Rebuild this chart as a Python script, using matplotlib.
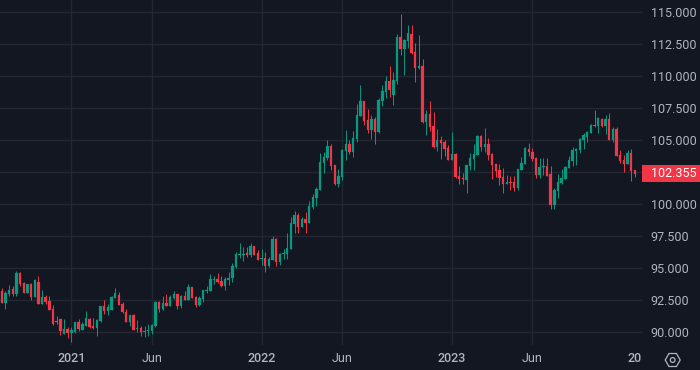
import numpy as np
import matplotlib
matplotlib.use("Agg")
import matplotlib.pyplot as plt
from matplotlib.patches import Circle, Rectangle, RegularPolygon

opens = [
    93.22, 92.28, 92.99, 93.37, 92.99, 94.62, 93.84, 93.06, 93.76, 92.75,
    93.92, 92.21, 92.75, 92.44, 91.82, 90.88, 91.04, 89.87, 90.26, 89.95,
    90.03, 90.80, 90.18, 90.49, 91.04, 90.49, 90.34, 90.88, 92.05, 91.66,
    91.74, 92.67, 92.91, 92.21, 91.58, 90.80, 91.35, 90.26, 90.34, 90.03,
    90.10, 90.10, 90.49, 92.36, 91.82, 92.28, 92.05, 92.67, 92.99, 92.05,
    92.83, 92.52, 93.53, 92.75, 92.13, 92.60, 93.22, 93.22, 94.08, 94.15,
    94.00, 93.61, 94.08, 94.23, 95.09, 96.04, 96.07, 96.20, 96.04, 96.74,
    96.20, 95.70, 95.81, 95.18, 95.65, 97.29, 95.49, 96.12, 96.12, 96.51,
    98.46, 99.17, 98.23, 98.85, 98.54, 99.79, 100.49, 101.12, 103.23, 103.62,
    104.56, 103.07, 101.59, 102.14, 104.17, 104.71, 104.09, 105.10, 106.90, 108.07,
    106.59, 105.81, 106.67, 105.65, 108.07, 108.78, 109.64, 108.54, 109.64, 113.07,
    112.13, 112.76, 113.31, 111.90, 110.65, 110.81, 106.43, 107.06, 106.12, 104.48,
    105.03, 104.87, 104.40, 103.46, 103.93, 102.21, 102.06, 101.90, 102.99, 103.54,
    103.85, 105.34, 104.48, 104.71, 103.93, 103.15, 102.68, 102.14, 101.59, 101.74,
    101.74, 101.28, 102.68, 103.15, 104.32, 104.09, 103.62, 102.29, 102.92, 102.99,
    102.37, 99.95, 101.04, 101.67, 101.98, 102.84, 103.39, 104.17, 104.24, 105.03,
    105.26, 105.57, 106.20, 106.12, 106.67, 106.12, 106.67, 105.03, 105.88, 103.85,
    103.46, 103.15, 104.01, 102.68,
]
highs = [
    93.43, 93.25, 93.69, 93.61, 94.78, 94.70, 93.92, 93.76, 93.84, 94.15,
    94.39, 93.30, 92.91, 92.83, 92.13, 91.27, 91.04, 91.04, 90.42, 90.42,
    90.80, 91.04, 90.80, 91.66, 91.12, 91.12, 91.04, 92.05, 92.52, 92.21,
    92.83, 93.45, 93.14, 92.36, 91.82, 91.35, 91.43, 90.96, 90.49, 90.49,
    90.65, 90.65, 92.44, 92.44, 92.83, 92.99, 92.91, 93.22, 92.99, 92.91,
    93.22, 93.76, 93.53, 92.83, 92.83, 93.30, 93.61, 94.54, 94.39, 94.62,
    94.39, 94.31, 94.70, 95.40, 96.26, 96.98, 96.67, 96.67, 96.98, 96.74,
    96.43, 96.51, 96.28, 95.89, 97.53, 97.37, 96.20, 96.51, 97.76, 99.01,
    99.48, 99.32, 99.01, 99.40, 100.26, 100.81, 101.35, 104.01, 104.09, 105.03,
    104.71, 103.07, 102.76, 104.32, 105.81, 105.03, 105.73, 107.84, 109.32, 108.07,
    107.45, 106.98, 106.82, 108.31, 109.32, 110.03, 110.81, 110.34, 113.31, 114.87,
    112.92, 114.01, 114.01, 112.60, 113.23, 111.35, 107.37, 108.07, 107.21, 105.89,
    105.34, 105.03, 104.64, 105.65, 104.01, 102.99, 102.45, 103.07, 104.01, 104.71,
    105.42, 105.42, 105.96, 105.18, 104.01, 103.15, 103.15, 102.84, 102.29, 102.21,
    102.21, 102.76, 103.70, 104.48, 104.79, 104.40, 103.70, 103.62, 103.62, 103.62,
    102.99, 101.28, 102.37, 102.76, 102.99, 103.78, 104.48, 104.40, 105.18, 105.57,
    105.73, 106.28, 107.37, 106.82, 106.74, 106.98, 107.13, 106.04, 106.04, 104.24,
    103.85, 104.24, 104.32, 102.68,
]
lows = [
    92.28, 91.82, 92.83, 92.83, 92.83, 93.61, 93.06, 93.06, 92.52, 92.75,
    92.21, 92.21, 92.21, 91.74, 90.57, 90.65, 89.79, 89.87, 89.56, 89.25,
    89.95, 90.10, 90.18, 90.49, 90.34, 90.26, 89.71, 90.80, 91.43, 91.35,
    91.74, 92.67, 92.13, 91.51, 90.80, 90.49, 90.18, 90.03, 89.71, 89.64,
    89.71, 89.87, 90.42, 91.58, 91.74, 92.05, 92.05, 92.60, 91.82, 91.90,
    92.52, 92.52, 92.67, 91.97, 92.05, 92.36, 93.06, 93.22, 93.76, 93.84,
    93.53, 93.30, 93.69, 93.92, 95.01, 95.81, 95.57, 95.89, 95.89, 96.04,
    95.65, 95.26, 94.71, 95.10, 95.65, 95.18, 95.26, 95.73, 95.73, 96.51,
    97.76, 97.76, 98.23, 97.76, 98.54, 99.64, 99.87, 101.12, 102.45, 103.46,
    102.68, 101.51, 101.35, 101.90, 103.46, 103.93, 103.70, 104.87, 106.90, 106.20,
    105.57, 105.10, 104.71, 105.57, 107.68, 108.31, 108.38, 107.76, 109.40, 111.67,
    110.10, 112.21, 111.74, 109.56, 110.57, 106.35, 105.42, 105.73, 104.40, 104.17,
    103.54, 103.78, 103.46, 103.46, 102.06, 101.59, 101.59, 100.89, 102.68, 102.68,
    103.85, 104.17, 104.09, 103.46, 101.98, 102.14, 101.51, 100.89, 101.59, 101.12,
    101.04, 101.12, 102.68, 103.15, 103.78, 103.39, 102.06, 102.06, 102.29, 102.21,
    99.64, 99.64, 100.49, 101.59, 101.98, 102.84, 102.99, 103.07, 104.01, 104.32,
    104.87, 105.57, 106.04, 105.57, 106.04, 105.49, 105.03, 104.87, 103.78, 103.23,
    102.53, 103.15, 101.82, 102.13,
]
closes = [
    92.28, 93.06, 93.30, 92.99, 94.62, 93.76, 93.06, 93.76, 92.75, 94.08,
    92.21, 92.75, 92.36, 91.74, 90.65, 90.80, 90.10, 90.26, 89.95, 90.18,
    90.80, 90.26, 90.65, 91.12, 90.42, 90.34, 90.96, 92.05, 91.66, 91.97,
    92.75, 93.06, 92.13, 91.58, 90.80, 91.35, 90.18, 90.34, 90.03, 90.10,
    90.18, 90.57, 92.36, 91.82, 92.28, 92.05, 92.75, 92.99, 92.05, 92.83,
    92.52, 93.53, 92.67, 92.13, 92.67, 93.30, 93.30, 94.15, 94.15, 93.92,
    93.61, 94.15, 94.23, 95.17, 96.10, 96.12, 96.15, 96.04, 96.74, 96.04,
    95.68, 95.78, 95.18, 95.73, 97.29, 95.49, 96.12, 96.20, 96.59, 98.54,
    99.17, 98.23, 98.85, 98.54, 99.87, 100.57, 101.20, 103.31, 103.70, 104.56,
    102.99, 101.59, 102.21, 104.24, 104.71, 104.09, 105.18, 106.98, 108.07, 106.51,
    105.81, 106.67, 105.65, 108.15, 108.85, 109.64, 108.93, 109.71, 113.07, 112.13,
    112.84, 113.38, 111.82, 110.65, 110.81, 106.43, 107.06, 106.04, 104.48, 105.03,
    104.79, 104.32, 103.46, 103.93, 102.14, 101.98, 101.98, 103.07, 103.62, 103.93,
    105.34, 104.48, 104.71, 103.85, 103.07, 102.60, 102.06, 101.59, 101.74, 101.67,
    101.28, 102.76, 103.23, 104.40, 104.09, 103.54, 102.29, 102.92, 102.99, 102.21,
    99.95, 101.12, 101.74, 102.06, 102.92, 103.46, 104.24, 104.32, 105.10, 105.42,
    105.65, 106.20, 106.12, 106.74, 106.12, 106.67, 105.03, 105.88, 103.78, 103.39,
    103.15, 104.01, 102.60, 102.355,
]

# week index of each labelled date
date_ticks = [19, 41, 71, 93, 123, 145, 173]
date_labels = ["2021", "Jun", "2022", "Jun", "2023", "Jun", "20"]
price_ticks = [90, 92.5, 95, 97.5, 100, 102.5, 105, 107.5, 110, 112.5, 115]
last_label = "102.355"

BG = "#131722"
GRID = "#232732"
GREEN = "#089981"
RED = "#f23645"
TEXT = "#b2b5be"

plt.rcParams["font.family"] = ["Roboto", "DejaVu Sans"]

fig = plt.figure(figsize=(7, 3.7), dpi=100, facecolor=BG)
ax = fig.add_axes([0, 25 / 370, 642 / 700, 345 / 370], facecolor=BG)

o = np.array(opens)
c = np.array(closes)
x = np.arange(len(o))
colors = [GREEN if cc >= oo else RED for oo, cc in zip(o, c)]

ax.vlines(x, lows, highs, colors=colors, linewidth=0.7, zorder=3)
ax.bar(x, np.abs(c - o), bottom=np.minimum(o, c), width=0.66,
       color=colors, edgecolor=colors, linewidth=0.15, zorder=3)

ax.set_xlim(-0.49, 174.96)
ax.set_ylim(89.0, 115.96)

ax.set_yticks(price_ticks)
ax.set_yticklabels([f"{p:.3f}" for p in price_ticks])
ax.yaxis.tick_right()
ax.set_xticks(date_ticks)
ax.set_xticklabels(date_labels)
ax.tick_params(axis="y", length=0, pad=6.2, labelsize=9, labelcolor=TEXT)
ax.tick_params(axis="x", length=0, pad=5.2, labelsize=9, labelcolor=TEXT)
ax.grid(True, color=GRID, linewidth=1.0, zorder=0)
ax.set_axisbelow(True)
ax.xaxis.get_gridlines()[-1].set_visible(False)
for s in ax.spines.values():
    s.set_visible(False)
for lab in ax.get_xticklabels()[::2]:
    lab.set_fontweight("medium")

# overlay in pixels for the price badge and the settings icon
ov = fig.add_axes([0, 0, 1, 1], facecolor="none")
ov.set_xlim(0, 700)
ov.set_ylim(370, 0)
ov.axis("off")
ov.add_patch(Rectangle((642, 165), 58, 17, facecolor=RED, edgecolor="none"))
ov.text(650.5, 173.8, last_label, color="white", fontsize=9, va="center", ha="left")
ov.add_patch(RegularPolygon((672.7, 360), 6, radius=7.5, orientation=np.pi / 6,
                            facecolor="none", edgecolor=TEXT, linewidth=0.9))
ov.add_patch(Circle((672.7, 360), 2.4, facecolor="none", edgecolor=TEXT, linewidth=0.9))

fig.savefig("out.png", dpi=100, facecolor=BG)
